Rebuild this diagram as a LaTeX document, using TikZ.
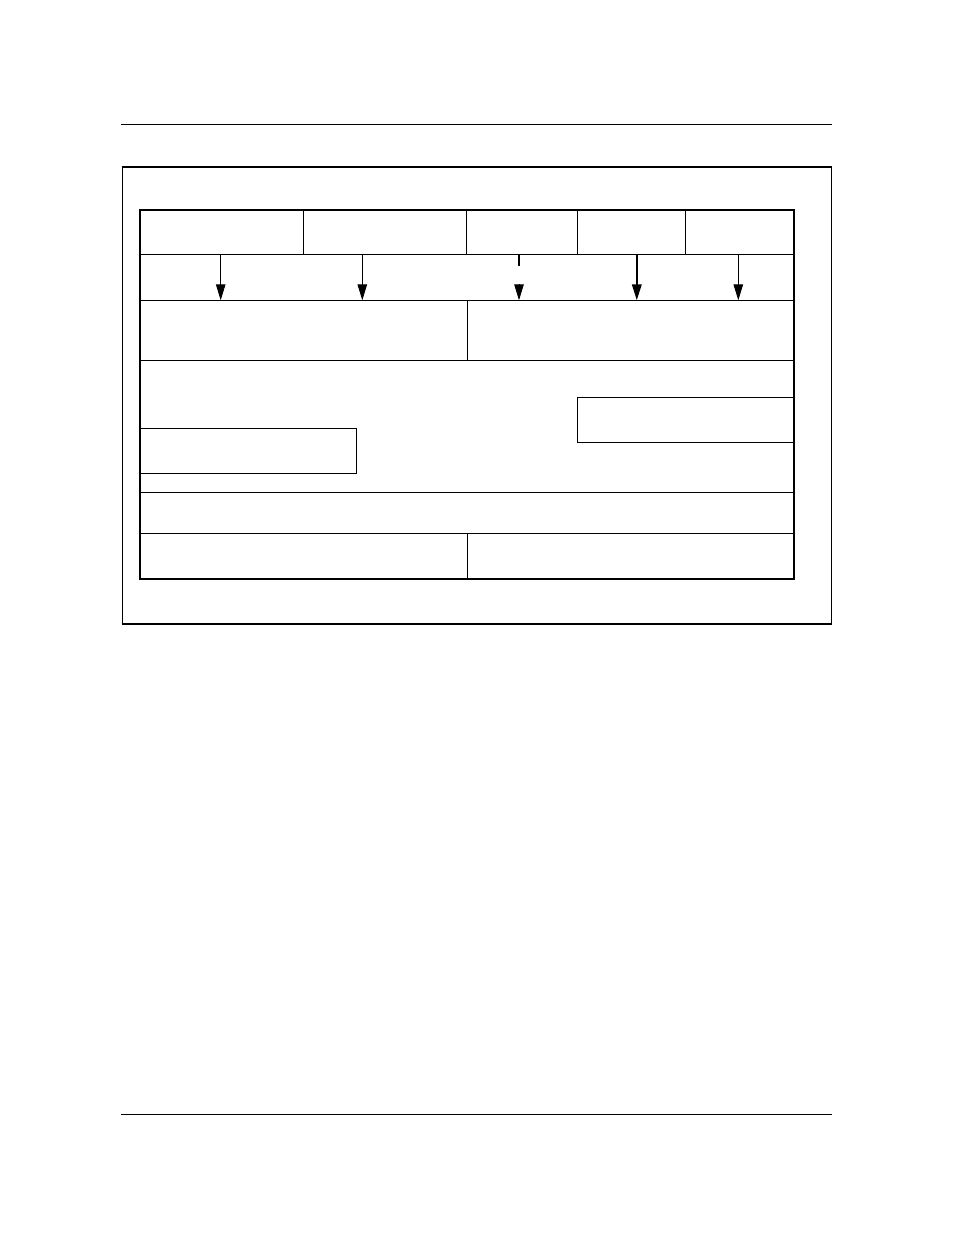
\documentclass[tikz,border=0pt]{standalone}
\usetikzlibrary{arrows.meta}

\tikzset{
  rule/.style={line width=0.9pt},
  thinline/.style={line width=1pt},
  heavyline/.style={line width=2pt},
  downarrow/.style={line width=1pt, -{Triangle[length=16pt,width=9.5pt]}},
}

\begin{document}
\begin{tikzpicture}[x=1pt,y=-1pt]
    \useasboundingbox (0,0) rectangle (954,1235);

    % Page rules
    \draw[rule] (121,124.5) -- (832,124.5);
    \draw[rule] (121,1114) -- (832,1114);

    % Outer frame
    \draw[thinline] (122.5,167) -- (122.5,624);
    \draw[thinline] (831,167) -- (831,624);
    \draw[line width=1.7pt] (121.7,167) -- (831.5,167);
    \draw[line width=1.7pt] (121.7,624) -- (831.5,624);

    % Row lines
    \draw[thinline] (140,254.3) -- (794,254.3);
    \draw[thinline] (140,300.3) -- (794,300.3);
    \draw[thinline] (140,360.3) -- (794,360.3);
    \draw[thinline] (140,492.3) -- (794,492.3);
    \draw[thinline] (140,533.7) -- (794,533.7);

    % Column lines
    \draw[thinline] (303.3,210) -- (303.3,254.3);
    \draw[thinline] (466.7,210) -- (466.7,254.3);
    \draw[thinline] (577.3,210) -- (577.3,254.3);
    \draw[thinline] (685.7,210) -- (685.7,254.3);
    \draw[thinline] (467.3,300.3) -- (467.3,360.3);
    \draw[thinline] (467.3,533.7) -- (467.3,579);

    % Inner boxes
    \draw[thinline] (140,428.3) rectangle (356.3,473.5);
    \draw[thinline] (577.3,397.3) rectangle (794,442.3);

    % Main box
    \draw[heavyline] (140,210) rectangle (794,579);

    % Arrows
    \foreach \x/\n in {220.7/one, 362.3/two, 738.3/five} {
        \coordinate (src\n) at (\x,254.3);
        \coordinate (dst\n) at (\x,300.3);
        \draw[downarrow] (src\n) -- (dst\n);
    }
    \coordinate (srcfour) at (636.8,254.3);
    \coordinate (dstfour) at (636.8,300.3);
    \draw[downarrow, line width=2pt] (srcfour) -- (dstfour);

    \coordinate (srcthree) at (519,254.3);
    \coordinate (stubthree) at (519,265.7);
    \coordinate (tipthree) at (519,284.3);
    \coordinate (dstthree) at (519,300.3);
    \draw[line width=2pt] (srcthree) -- (stubthree);
    \draw[downarrow] (tipthree) -- (dstthree);
\end{tikzpicture}
\end{document}
